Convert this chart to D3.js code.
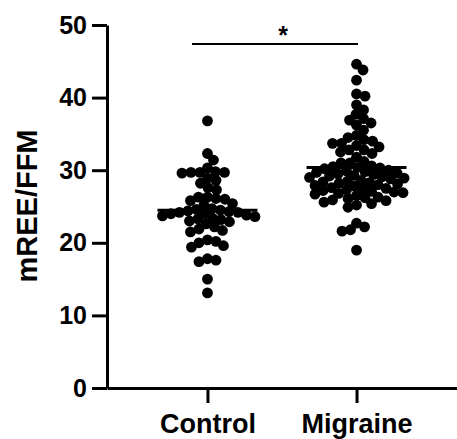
<!DOCTYPE html>
<html>
<head>
<meta charset="utf-8">
<script src="https://cdn.jsdelivr.net/npm/d3@7"></script>
<style>
  body { margin: 0; background: #fff; }
  svg { display: block; font-family: "Liberation Sans", Arial, sans-serif; }
</style>
</head>
<body>
<div id="chart"></div>
<script>
var groups = ["Control", "Migraine"];

var control = [36.8, 32.3, 31.4, 30.3, 29.8, 29.7, 29.7, 29.6, 29.7, 28.9, 28.6, 28.2,
  27.6, 24.0, 27.3, 26.3, 26.1, 22.9, 26.3, 26.0, 25.4, 25.2, 23.7, 24.7, 24.5, 24.4,
  24.6, 24.3, 25.8, 24.2, 23.8, 24.0, 22.6, 24.2, 23.6, 23.3, 23.2, 23.4, 23.0, 22.2,
  21.9, 21.7, 21.5, 20.0, 19.6, 20.2, 19.4, 20.4, 17.8, 17.4, 17.6, 15.0, 13.1];

var migraine = [44.6, 43.8, 42.4, 40.5, 40.2, 39.0, 38.3, 37.7, 37.1, 36.9, 36.5, 36.2,
  35.5, 34.8, 34.5, 34.2, 34.0, 29.1, 33.7, 33.7, 33.4, 33.2, 32.8, 32.8, 32.5, 32.3,
  27.5, 27.3, 26.9, 31.8, 26.7, 26.2, 25.8, 31.2, 31.0, 31.0, 27.9, 27.1, 30.6, 30.5,
  30.4, 30.3, 30.2, 30.0, 29.9, 29.8, 29.7, 29.6, 29.5, 29.4, 29.3, 29.2, 29.0, 28.9,
  28.8, 28.6, 28.5, 28.4, 28.3, 28.2, 28.1, 28.0, 27.8, 27.6, 27.4, 27.2, 27.0, 26.8,
  26.5, 26.3, 26.1, 25.9, 25.6, 25.4, 25.2, 24.9, 22.7, 22.2, 21.8, 21.6, 19.0];

var yTicks = [0, 10, 20, 30, 40, 50];
var yLabel = "mREE/FFM";
var sigLabel = "*";

var width = 457, height = 439;
var r = 5.4, gap = 8.6;

var svg = d3.select("#chart").append("svg")
  .attr("width", width)
  .attr("height", height);

var y = d3.scaleLinear().domain([0, 50]).range([388, 25]);
var x = d3.scalePoint().domain(groups).range([107, 457]).padding(0.674);

// simple beeswarm: each point goes to the nearest free spot to the centre
function swarm(values) {
  var placed = [];
  values.slice().sort(d3.descending).forEach(function(v) {
    var py = y(v);
    for (var k = 0; k < 300; k++) {
      var off = (k % 2 ? 1 : -1) * Math.ceil(k / 2) * 0.5;
      var ok = placed.every(function(p) {
        var dx = p.dx - off, dy = p.y - py;
        return dx * dx + dy * dy >= gap * gap;
      });
      if (ok) { placed.push({v: v, y: py, dx: off}); break; }
    }
  });
  return placed;
}

var data = [control, migraine];

groups.forEach(function(g, i) {
  var pts = swarm(data[i]);
  svg.append("g").selectAll("circle")
    .data(pts)
    .enter()
    .append("circle")
    .attr("cx", function(d) { return x(g) + d.dx; })
    .attr("cy", function(d) { return d.y; })
    .attr("r", r)
    .attr("fill", "#000");

  var m = d3.mean(data[i]);
  svg.append("line")
    .attr("x1", x(g) - 50).attr("x2", x(g) + 50)
    .attr("y1", y(m)).attr("y2", y(m))
    .attr("stroke", "#000")
    .attr("stroke-width", 3);
});

// axes
var yAxis = svg.append("g")
  .attr("transform", "translate(107,0)")
  .call(d3.axisLeft(y).tickValues(yTicks).tickSize(15).tickSizeOuter(0));
yAxis.selectAll("line, path").attr("stroke", "#000").attr("stroke-width", 3);
yAxis.selectAll("text")
  .attr("x", -20)
  .attr("fill", "#000")
  .style("font-size", "25px")
  .style("font-weight", "bold")
  .style("font-family", "Liberation Sans, Arial, sans-serif");

var xAxis = svg.append("g")
  .attr("transform", "translate(0,388)")
  .call(d3.axisBottom(x).tickSize(15).tickSizeOuter(0));
xAxis.selectAll("line, path").attr("stroke", "#000").attr("stroke-width", 3);
xAxis.selectAll("text")
  .attr("y", 26)
  .attr("fill", "#000")
  .style("font-size", "27px")
  .style("font-weight", "bold")
  .style("font-family", "Liberation Sans, Arial, sans-serif");

svg.append("text")
  .attr("transform", "translate(37,206) rotate(-90)")
  .attr("text-anchor", "middle")
  .style("font-size", "29px")
  .style("font-weight", "bold")
  .text(yLabel);

// significance bar
svg.append("line")
  .attr("x1", 192).attr("x2", 358)
  .attr("y1", 44).attr("y2", 44)
  .attr("stroke", "#000")
  .attr("stroke-width", 2);

svg.append("text")
  .attr("x", (x(groups[0]) + x(groups[1])) / 2 + 1)
  .attr("y", 44)
  .attr("text-anchor", "middle")
  .style("font-size", "25px")
  .style("font-weight", "bold")
  .text(sigLabel);
</script>
</body>
</html>
